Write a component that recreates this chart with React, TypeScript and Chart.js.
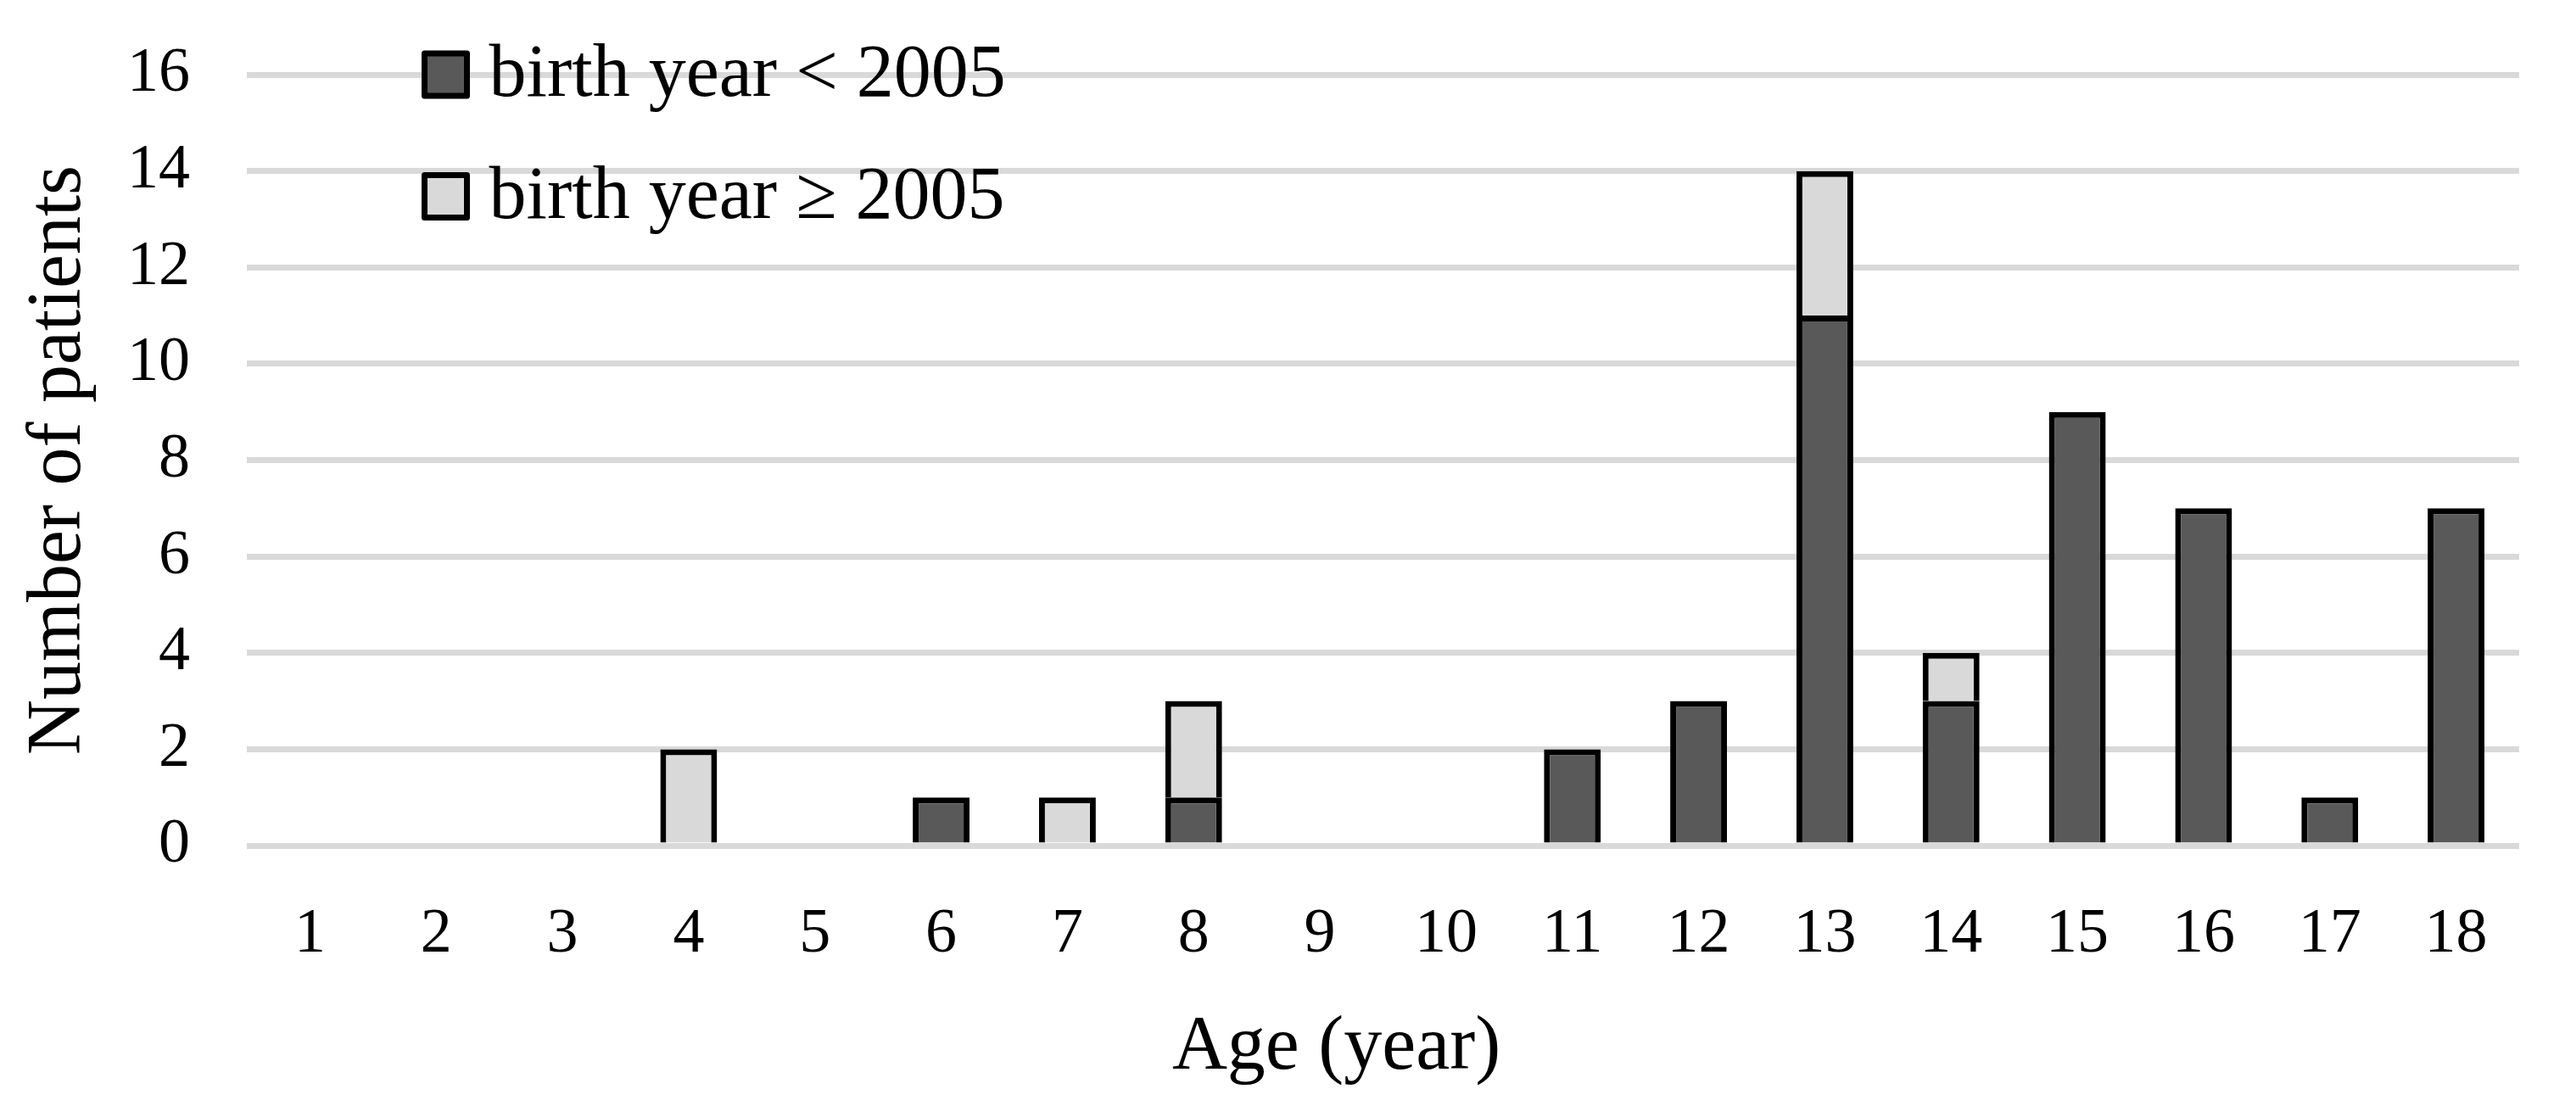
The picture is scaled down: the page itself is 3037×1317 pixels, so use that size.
import React, { useEffect, useRef } from "react";
import { Chart, registerables } from "chart.js";

Chart.register(...registerables);

const ages = ["1", "2", "3", "4", "5", "6", "7", "8", "9", "10", "11", "12", "13", "14", "15", "16", "17", "18"];
const before2005 = [0, 0, 0, 0, 0, 1, 0, 1, 0, 0, 2, 3, 11, 3, 9, 7, 1, 7];
const from2005 = [0, 0, 0, 2, 0, 0, 1, 2, 0, 0, 0, 0, 3, 1, 0, 0, 0, 0];
const seriesLabels = ["birth year < 2005", "birth year \u2265 2005"];
const xTitle = "Age (year)";
const yTitle = "Number of patients";
const yMax = 16;
const yStep = 2;

const FONT = '"Liberation Serif", "Times New Roman", serif';

const insideLegend = {
  id: "insideLegend",
  afterDraw(chart: any) {
    const { ctx, chartArea } = chart;
    ctx.save();
    chart.data.datasets.forEach((ds: any, i: number) => {
      const cy = chartArea.top + i * 143.5;
      const x0 = chartArea.left + 209.5;
      ctx.fillStyle = ds.backgroundColor;
      ctx.fillRect(x0, cy - 25, 50, 50);
      ctx.lineWidth = 7;
      ctx.strokeStyle = "#000";
      ctx.lineJoin = "round";
      ctx.strokeRect(x0, cy - 25, 50, 50);
      ctx.font = `88px ${FONT}`;
      ctx.fillStyle = "#000";
      ctx.textAlign = "left";
      ctx.textBaseline = "alphabetic";
      ctx.fillText(ds.label, x0 + 76, cy + 25);
    });
    // x-axis title (centred slightly left of the plot centre, as in the original)
    const xs = chart.scales.x;
    ctx.font = `90px ${FONT}`;
    ctx.textAlign = "center";
    ctx.textBaseline = "middle";
    ctx.fillStyle = "#000";
    ctx.fillText(xTitle, (chartArea.left + chartArea.right) / 2 - 55, xs.bottom - 81);
    ctx.restore();
  },
};

export default function App() {
  const ref = useRef<HTMLCanvasElement | null>(null);
  useEffect(() => {
    if (!ref.current) return;
    const chart = new Chart(ref.current, {
      type: "bar",
      data: {
        labels: ages,
        datasets: [
          {
            label: seriesLabels[0],
            data: before2005.map((v) => (v === 0 ? null : v)),
            backgroundColor: "#595959",
            borderColor: "#000000",
            borderWidth: 7,
            barPercentage: 0.45,
            categoryPercentage: 1,
          },
          {
            label: seriesLabels[1],
            data: from2005.map((v) => (v === 0 ? null : v)),
            backgroundColor: "#d9d9d9",
            borderColor: "#000000",
            borderWidth: 7,
            barPercentage: 0.45,
            categoryPercentage: 1,
          },
        ],
      },
      options: {
        animation: false,
        responsive: true,
        maintainAspectRatio: false,
        layout: { padding: { top: 88, right: 67, left: 0, bottom: 0 } },
        plugins: {
          legend: { display: false },
          tooltip: { enabled: false },
        },
        scales: {
          x: {
            stacked: true,
            grid: { display: false, drawTicks: false },
            border: { display: false },
            ticks: {
              color: "#000",
              padding: 69,
              font: { family: FONT, size: 74, lineHeight: 1 },
            },
            title: { display: false, text: xTitle },
            afterFit: (scale: any) => {
              scale.height = 320;
              scale.paddingLeft = 0;
              scale.paddingRight = 0;
            },
          },
          y: {
            stacked: true,
            min: 0,
            max: yMax,
            ticks: {
              stepSize: yStep,
              color: "#000",
              padding: 67,
              font: { family: FONT, size: 74, lineHeight: 1 },
            },
            grid: { color: "#d9d9d9", lineWidth: 7, drawTicks: false },
            border: { display: false },
            title: {
              display: true,
              text: yTitle,
              color: "#000",
              font: { family: FONT, size: 90, lineHeight: 1 },
              padding: { top: 25, bottom: 0 },
            },
            afterFit: (scale: any) => {
              scale.width = 291;
              scale.paddingTop = 0;
              scale.paddingBottom = 0;
            },
          },
        },
      },
      plugins: [insideLegend],
    });
    return () => chart.destroy();
  }, []);
  return (
    <div style={{ position: "absolute", left: 0, top: 0, width: "3037px", height: "1317px", background: "#fff" }}>
      <canvas ref={ref} />
    </div>
  );
}
